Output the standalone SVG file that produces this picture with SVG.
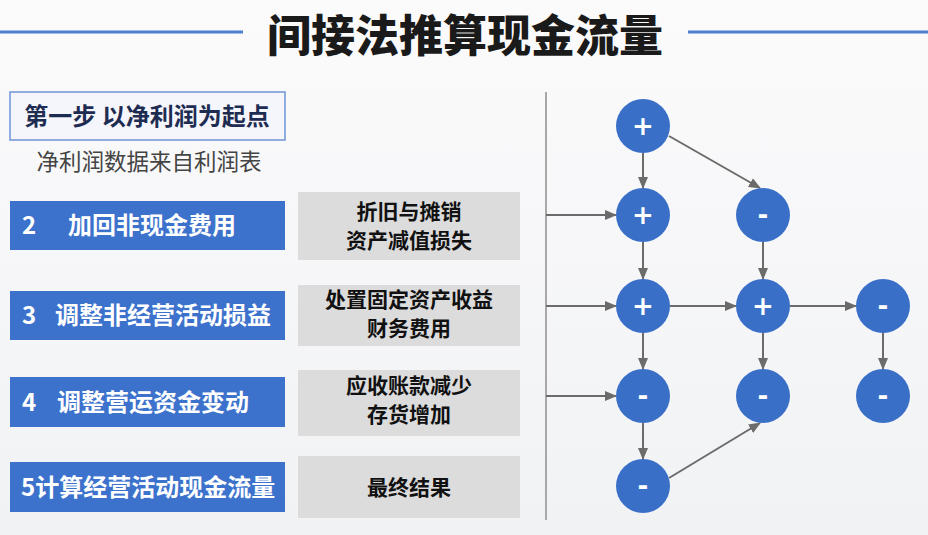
<svg xmlns="http://www.w3.org/2000/svg" width="928" height="535" viewBox="0 0 928 535">
<defs>
<linearGradient id="bg" x1="0" y1="0" x2="0" y2="1">
<stop offset="0" stop-color="#fbfbfc"/>
<stop offset="1" stop-color="#f1f2f4"/>
</linearGradient>
<marker id="ah" markerUnits="userSpaceOnUse" markerWidth="12" markerHeight="10" refX="11" refY="5" orient="auto">
<path d="M0,0 L12,5 L0,10 z" fill="#6b6b6b"/>
</marker>
<style>
.cjk{font-family:"Noto Sans CJK SC","Noto Sans",sans-serif;}
.title{font-size:44px;font-weight:900;fill:#1a1a1a;}
.step1{font-size:24px;font-weight:700;fill:#1f2c52;}
.sub{font-size:22.5px;fill:#444;}
.bbox{fill:#3c72cc;}
.btxt{font-size:24px;font-weight:700;fill:#ffffff;}
.gbox{fill:#dcdcdc;}
.gtxt{font-size:21px;font-weight:700;fill:#111;text-anchor:middle;}
.circ{fill:#3a6fc8;}
.sign{font-family:"DejaVu Sans",sans-serif;font-size:26px;font-weight:700;fill:#fff;text-anchor:middle;}
.conn line{stroke:#6b6b6b;stroke-width:2;marker-end:url(#ah);}
</style>
</defs>
<rect x="0" y="0" width="928" height="535" fill="url(#bg)"/>
<g id="title">
<line x1="0" y1="32" x2="243" y2="32" stroke="#4a7fd0" stroke-width="3"/>
<line x1="688" y1="32" x2="928" y2="32" stroke="#4a7fd0" stroke-width="3"/>
<text class="cjk title" x="465" y="52" text-anchor="middle">间接法推算现金流量</text>
</g>
<g id="step1">
<rect x="10" y="92" width="275" height="48" fill="#f4f6fb" stroke="#6f93d6" stroke-width="1.5"/>
<text class="cjk step1" x="147" y="125" text-anchor="middle">第一步 以净利润为起点</text>
<text class="cjk sub" x="149" y="170" text-anchor="middle">净利润数据来自利润表</text>
</g>
<g id="step2">
<rect class="bbox" x="10" y="201" width="275" height="49"/>
<text class="cjk btxt" x="22" y="234">2</text>
<text class="cjk btxt" x="68" y="234">加回非现金费用</text>
<rect class="gbox" x="298" y="192" width="222" height="68"/>
<text class="cjk gtxt" x="409" y="219">折旧与摊销</text>
<text class="cjk gtxt" x="409" y="248">资产减值损失</text>
</g>
<g id="step3">
<rect class="bbox" x="10" y="291" width="275" height="49"/>
<text class="cjk btxt" x="22" y="324">3</text>
<text class="cjk btxt" x="55" y="324">调整非经营活动损益</text>
<rect class="gbox" x="298" y="285" width="222" height="61"/>
<text class="cjk gtxt" x="409" y="307">处置固定资产收益</text>
<text class="cjk gtxt" x="409" y="336">财务费用</text>
</g>
<g id="step4">
<rect class="bbox" x="10" y="377" width="275" height="50"/>
<text class="cjk btxt" x="22" y="411">4</text>
<text class="cjk btxt" x="57" y="411">调整营运资金变动</text>
<rect class="gbox" x="298" y="370" width="222" height="66"/>
<text class="cjk gtxt" x="409" y="393">应收账款减少</text>
<text class="cjk gtxt" x="409" y="422">存货增加</text>
</g>
<g id="step5">
<rect class="bbox" x="10" y="462" width="275" height="50"/>
<text class="cjk btxt" x="21" y="496">5计算经营活动现金流量</text>
<rect class="gbox" x="298" y="456" width="222" height="62"/>
<text class="cjk gtxt" x="409" y="495">最终结果</text>
</g>
<g id="separator">
<line x1="546" y1="92" x2="546" y2="520" stroke="#a8a8a8" stroke-width="2"/>
</g>
<g id="connectors" class="conn">
<line x1="546" y1="215" x2="616" y2="215"/>
<line x1="546" y1="306" x2="616" y2="306"/>
<line x1="546" y1="396" x2="616" y2="396"/>
<line x1="643" y1="153" x2="643" y2="188"/>
<line x1="643" y1="242" x2="643" y2="279"/>
<line x1="643" y1="333" x2="643" y2="369"/>
<line x1="643" y1="423" x2="643" y2="459"/>
<line x1="763" y1="242" x2="763" y2="279"/>
<line x1="763" y1="333" x2="763" y2="369"/>
<line x1="883" y1="333" x2="883" y2="369"/>
<line x1="670" y1="306" x2="736" y2="306"/>
<line x1="790" y1="306" x2="856" y2="306"/>
<line x1="669" y1="136" x2="760" y2="188"/>
<line x1="669" y1="478" x2="760" y2="423"/>
</g>
<g id="n1"><circle class="circ" cx="643" cy="126" r="27"/><text class="sign" x="643" y="135">+</text></g>
<g id="n2"><circle class="circ" cx="643" cy="215" r="27"/><text class="sign" x="643" y="224">+</text></g>
<g id="n3"><circle class="circ" cx="763" cy="215" r="27"/><text class="sign" x="763" y="224">-</text></g>
<g id="n4"><circle class="circ" cx="643" cy="306" r="27"/><text class="sign" x="643" y="315">+</text></g>
<g id="n5"><circle class="circ" cx="763" cy="306" r="27"/><text class="sign" x="763" y="315">+</text></g>
<g id="n6"><circle class="circ" cx="883" cy="306" r="27"/><text class="sign" x="883" y="315">-</text></g>
<g id="n7"><circle class="circ" cx="643" cy="396" r="27"/><text class="sign" x="643" y="405">-</text></g>
<g id="n8"><circle class="circ" cx="763" cy="396" r="27"/><text class="sign" x="763" y="405">-</text></g>
<g id="n9"><circle class="circ" cx="883" cy="396" r="27"/><text class="sign" x="883" y="405">-</text></g>
<g id="n10"><circle class="circ" cx="643" cy="486" r="27"/><text class="sign" x="643" y="495">-</text></g>
</svg>
